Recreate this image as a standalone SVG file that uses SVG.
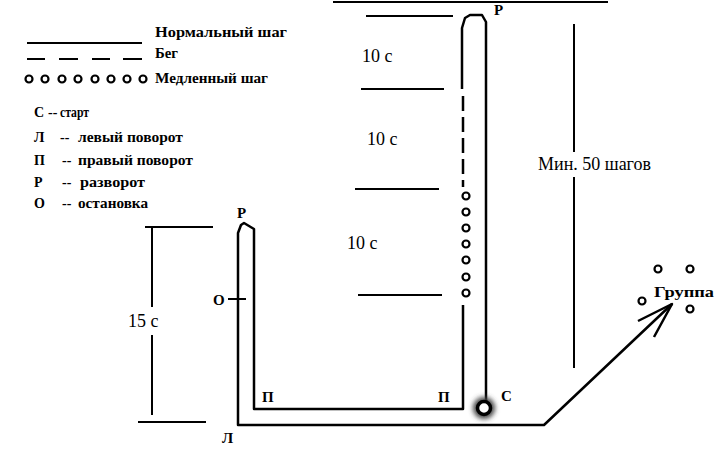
<svg xmlns="http://www.w3.org/2000/svg" width="724" height="450" viewBox="0 0 724 450">
<style>
text{font-family:'Liberation Serif','Times New Roman','DejaVu Serif',serif;fill:#000}
.lg{font-weight:bold;font-size:14px}
.lb{font-weight:bold;font-size:15px}
.tm{font-size:18px}
.ln{stroke:#000;stroke-width:2;fill:none}
.path{stroke:#000;stroke-width:2.5;fill:none;stroke-linejoin:round}
.dot{stroke:#000;stroke-width:2.2;fill:#fff}
</style>
<defs>
<filter id="blur" x="-1" y="-1" width="3" height="3"><feGaussianBlur stdDeviation="2.5"/></filter>
</defs>
<rect width="724" height="450" fill="#fff"/>

<g id="legend">
<line class="ln" x1="27" y1="43" x2="142" y2="43"/>
<path class="ln" d="M27 59H45M59 59H78M92 59H110M123 59H142"/>
<g class="dot">
<circle cx="29" cy="79" r="3.5"/><circle cx="45" cy="79" r="3.5"/><circle cx="62" cy="79" r="3.5"/><circle cx="78" cy="79" r="3.5"/>
<circle cx="95" cy="79" r="3.5"/><circle cx="111" cy="79" r="3.5"/><circle cx="127" cy="79" r="3.5"/><circle cx="143" cy="79" r="3.5"/>
</g>
<text class="lg" x="155" y="37" textLength="132" lengthAdjust="spacingAndGlyphs">Нормальный  шаг</text>
<text class="lg" x="155" y="58" textLength="23" lengthAdjust="spacingAndGlyphs">Бег</text>
<text class="lg" x="155" y="83" textLength="113" lengthAdjust="spacingAndGlyphs">Медленный шаг</text>
<text class="lg" x="34" y="117">С</text><text class="lg" x="48" y="117">--</text><text class="lg" x="60" y="117" textLength="29" lengthAdjust="spacingAndGlyphs">старт</text>
<text class="lg" x="34" y="142">Л</text><text class="lg" x="60" y="142">--</text><text class="lg" x="78" y="142" textLength="105" lengthAdjust="spacingAndGlyphs">левый поворот</text>
<text class="lg" x="34" y="165">П</text><text class="lg" x="62" y="165">--</text><text class="lg" x="78" y="165" textLength="115" lengthAdjust="spacingAndGlyphs">правый поворот</text>
<text class="lg" x="34" y="187">Р</text><text class="lg" x="62" y="187">--</text><text class="lg" x="80" y="187" textLength="65" lengthAdjust="spacingAndGlyphs">разворот</text>
<text class="lg" x="34" y="208">О</text><text class="lg" x="62" y="208">--</text><text class="lg" x="78" y="208" textLength="70" lengthAdjust="spacingAndGlyphs">остановка</text>
</g>

<g id="timing">
<line class="ln" x1="333" y1="2" x2="608" y2="2"/>
<line class="ln" x1="366" y1="16" x2="453" y2="16"/>
<line class="ln" x1="361" y1="89" x2="444" y2="89"/>
<line class="ln" x1="355" y1="189" x2="439" y2="189"/>
<line class="ln" x1="358" y1="295" x2="442" y2="295"/>
<text class="tm" x="362" y="62">10 с</text>
<text class="tm" x="367" y="145">10 с</text>
<text class="tm" x="347" y="249">10 с</text>
<line class="ln" x1="145" y1="227" x2="213" y2="227"/>
<line class="ln" x1="138" y1="422" x2="206" y2="422"/>
<line class="ln" x1="152" y1="227" x2="152" y2="307"/>
<line class="ln" x1="152" y1="335" x2="152" y2="415"/>
<text class="tm" x="128" y="327">15 с</text>
<line class="ln" x1="574" y1="24" x2="574" y2="152"/>
<line class="ln" x1="574" y1="177" x2="574" y2="368"/>
<text class="tm" x="538" y="170">Мин. 50 шагов</text>
</g>

<g id="connectors">
<path class="path" d="M486 404V22L482 15H470L465 18L462 28V89"/>
<path class="path" stroke-dasharray="15 6" d="M463 96V187"/>
<g class="dot">
<circle cx="466" cy="196" r="3.5"/><circle cx="466" cy="212" r="3.5"/><circle cx="466" cy="228" r="3.5"/><circle cx="466" cy="244" r="3.5"/>
<circle cx="466" cy="260" r="3.5"/><circle cx="466" cy="277" r="3.5"/><circle cx="466" cy="293" r="3.5"/>
</g>
<path class="path" d="M463 305V409H254V229L244 223L241 225L238 233V425H544L672 304"/>
<path class="path" d="M638 321L672 304L654 337"/>
<line class="ln" x1="228" y1="299" x2="246" y2="299"/>
</g>

<g id="start">
<circle cx="484" cy="408" r="11" fill="#444" filter="url(#blur)"/>
<circle cx="484" cy="408" r="6.5" fill="#fff" stroke="#000" stroke-width="3.5"/>
<text class="lb" x="501" y="401">С</text>
</g>
<g id="turns">
<text class="lb" x="494" y="15">Р</text>
<text class="lb" x="237" y="218">Р</text>
<text class="lb" x="213" y="305">О</text>
<text class="lb" x="262" y="402">П</text>
<text class="lb" x="438" y="402">П</text>
<text class="lb" x="222" y="443">Л</text>
</g>
<g id="group">
<g class="dot">
<circle cx="658" cy="269" r="3.5"/><circle cx="690" cy="269" r="3.5"/><circle cx="642" cy="301" r="3.5"/><circle cx="690" cy="309" r="3.5"/>
</g>
<text class="lb" x="654" y="297" font-size="14" textLength="60" lengthAdjust="spacingAndGlyphs">Группа</text>
</g>
</svg>
